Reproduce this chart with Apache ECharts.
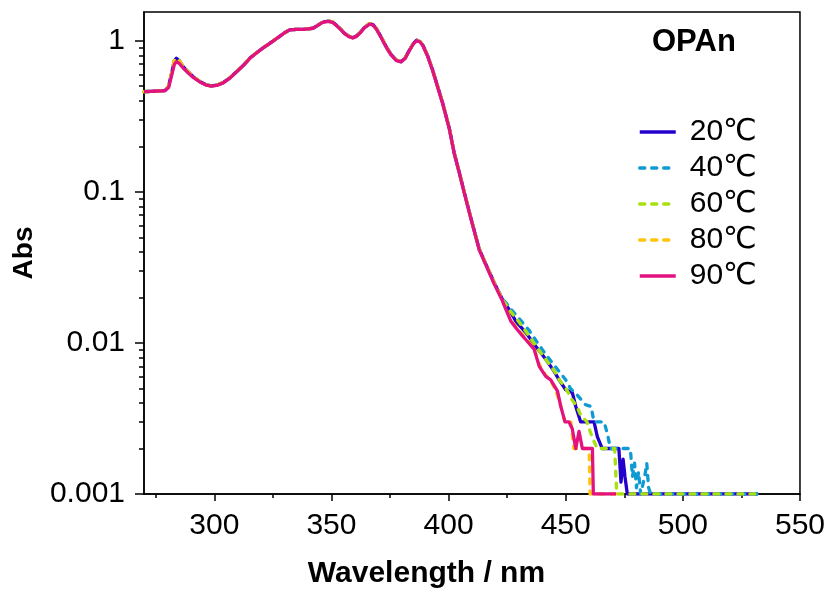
<!DOCTYPE html>
<html><head><meta charset="utf-8">
<script src="https://cdn.jsdelivr.net/npm/echarts@6/dist/echarts.min.js"></script>
<style>html,body{margin:0;padding:0;background:#fff}#chart{width:828px;height:594px}</style>
</head><body><div id="chart"></div>
<script>
// ---- data ----
const seriesNames = ['20℃', '40℃', '60℃', '80℃', '90℃'];
const seriesColors = ['#2400CC', '#0E9BD4', '#A8E010', '#FFC508', '#E2127F'];

// shared part of the spectrum (all temperatures overlap)
const wlHead = [270, 273, 276, 279, 280.5, 281.8, 283, 283.8, 285, 286.7, 289, 291, 294, 296.7, 298.8, 301, 303.8, 306.5, 309.5, 312.5, 315.1, 318, 321, 323.7, 326, 327.9, 330, 332.2, 335, 337.8, 340, 342.1, 344, 345.7, 347.3, 348.8, 350.5, 352, 354, 355.6, 357.5, 359.1, 360.5, 362, 364, 366.3, 367.7, 369.1, 371.2, 373.4, 375.5, 377.6, 379.7, 381.5, 383.3, 385, 386.4, 387.7, 389, 391, 393.2, 395.3, 397.5, 400.3, 402.4, 404.6, 407.1, 409.7, 413.1, 416, 419.5];
const absHead = [0.46, 0.462, 0.465, 0.468, 0.5, 0.61, 0.74, 0.765, 0.74, 0.673, 0.62, 0.578, 0.535, 0.51, 0.502, 0.508, 0.528, 0.565, 0.624, 0.69, 0.765, 0.833, 0.9, 0.96, 1.02, 1.07, 1.13, 1.18, 1.19, 1.19, 1.2, 1.21, 1.26, 1.315, 1.34, 1.35, 1.33, 1.27, 1.19, 1.12, 1.07, 1.047, 1.07, 1.12, 1.22, 1.3, 1.28, 1.21, 1.06, 0.913, 0.81, 0.746, 0.727, 0.77, 0.868, 0.96, 1.01, 0.99, 0.937, 0.8, 0.64, 0.5, 0.386, 0.264, 0.181, 0.134, 0.094, 0.0655, 0.0417, 0.033, 0.025];
const absHead90 = [0.46, 0.462, 0.465, 0.468, 0.49, 0.59, 0.70, 0.726, 0.71, 0.66, 0.61, 0.572, 0.532, 0.508, 0.5, 0.506, 0.526, 0.563, 0.622, 0.688, 0.763, 0.83, 0.9, 0.96, 1.02, 1.07, 1.13, 1.18, 1.19, 1.19, 1.2, 1.21, 1.26, 1.31, 1.335, 1.345, 1.325, 1.265, 1.185, 1.115, 1.065, 1.044, 1.065, 1.115, 1.215, 1.29, 1.27, 1.2, 1.05, 0.905, 0.805, 0.742, 0.724, 0.765, 0.862, 0.955, 1.0, 0.985, 0.93, 0.795, 0.635, 0.496, 0.383, 0.262, 0.18, 0.133, 0.093, 0.065, 0.0413, 0.0326, 0.0245];

// tails (where the curves separate)
const wlTail20 = [423, 425.9, 428.7, 433.0, 437.2, 441.5, 445.0, 447.2, 450.0, 452.8, 454.3, 456.4, 462.1, 463.5, 465.6, 472.7, 473.6, 474.5, 475.3, 476.3, 532];
const absTail20 = [0.0194, 0.0166, 0.0139, 0.0117, 0.0095, 0.0078, 0.0065, 0.0057, 0.0049, 0.0047, 0.0038, 0.0030, 0.0030, 0.0024, 0.0020, 0.0020, 0.0012, 0.0017, 0.0013, 0.001, 0.001];
const wlTail40 = [423, 426, 430.1, 434.4, 438, 442, 445.8, 450.0, 452, 455, 458.5, 460.8, 462.1, 466.4, 467.8, 469.1, 477.6, 478.5, 479.4, 480.2, 481.1, 482.0, 483.7, 484.6, 485.4, 486.3, 532];
const absTail40 = [0.0197, 0.0172, 0.0145, 0.0121, 0.0100, 0.0082, 0.0069, 0.0057, 0.0050, 0.0045, 0.0039, 0.0038, 0.0030, 0.0030, 0.0025, 0.0020, 0.0020, 0.0013, 0.0016, 0.0011, 0.0014, 0.001, 0.0013, 0.0016, 0.0011, 0.001, 0.001];
const wlTail60 = [423, 426, 430, 434, 438, 442, 445.5, 447.2, 450.1, 452.7, 454.8, 456.5, 459.1, 460.4, 461.7, 463.5, 470.9, 471.8, 532];
const absTail60 = [0.0194, 0.0165, 0.0138, 0.0113, 0.0092, 0.0076, 0.0064, 0.0057, 0.0050, 0.0042, 0.0038, 0.0033, 0.0030, 0.0026, 0.0023, 0.0020, 0.0020, 0.001, 0.001];
const wlTail80 = [423, 424.5, 426.6, 428.7, 433, 436.5, 438.7, 441.5, 443.6, 446.5, 447.9, 449.7, 452.2, 453.5, 460.0, 460.4, 471.5];
const absTail80 = [0.0194, 0.0168, 0.0141, 0.0128, 0.0107, 0.0092, 0.0072, 0.0061, 0.0057, 0.0045, 0.0038, 0.0030, 0.0030, 0.0020, 0.0020, 0.001, 0.001];
const wlTail90 = [423, 424.5, 426.6, 428.7, 431, 433, 436.5, 438.7, 441.5, 443.6, 446.5, 447.9, 449.7, 451.4, 452.8, 454.3, 455.7, 457.1, 461.4, 461.8, 471.5];
const absTail90 = [0.0190, 0.0166, 0.0139, 0.0126, 0.0114, 0.0105, 0.0091, 0.0070, 0.0060, 0.0057, 0.0048, 0.0038, 0.0030, 0.0030, 0.0027, 0.0020, 0.0026, 0.0020, 0.0020, 0.001, 0.001];

// axes
const xMajorTicks = [300, 350, 400, 450, 500, 550];
const xMinorTicks = [275, 325, 375, 425, 475, 525];
const yMajorTicks = [0.001, 0.01, 0.1, 1];
const yMinorTicks = [0.002, 0.003, 0.004, 0.005, 0.006, 0.007, 0.008, 0.009, 0.02, 0.03, 0.04, 0.05, 0.06, 0.07, 0.08, 0.09, 0.2, 0.3, 0.4, 0.5, 0.6, 0.7, 0.8, 0.9];
const chartTitle = 'OPAn';
const xName = 'Wavelength / nm';
const yName = 'Abs';

// ---- build ----
function pairs(wa, va) { return wa.map((w, i) => [w, va[i]]); }
const heads = [absHead, absHead, absHead, absHead, absHead90];
const tails = [[wlTail20, absTail20], [wlTail40, absTail40], [wlTail60, absTail60], [wlTail80, absTail80], [wlTail90, absTail90]];
const dashes = ['solid', [5, 7], [5, 7], [5, 7], 'solid'];
const FONT = '"Liberation Sans", Arial, "DejaVu Sans", sans-serif';

const series = seriesNames.map((name, i) => ({
  name: name,
  type: 'line',
  xAxisIndex: 0, yAxisIndex: 0,
  showSymbol: false, symbol: 'none',
  data: pairs(wlHead, heads[i]).concat(pairs(tails[i][0], tails[i][1])),
  lineStyle: { color: seriesColors[i], width: 3.3, type: dashes[i], cap: dashes[i] === 'solid' ? 'butt' : 'round', join: 'round' },
  itemStyle: { color: seriesColors[i] },
  z: 2 + i
}));

const axisLineStyle = { color: '#000', width: 1.5 };
const chart = echarts.init(document.getElementById('chart'), null, { renderer: 'canvas' });
chart.setOption({
  animation: false,
  backgroundColor: '#fff',
  title: { text: chartTitle, left: 652, top: 27, padding: 0,
    textStyle: { fontSize: 31, fontWeight: 'bold', fontFamily: FONT, color: '#000' } },
  legend: {
    orient: 'vertical', left: 638, top: 117, padding: 0,
    itemWidth: 36, itemHeight: 14, itemGap: 6,
    itemStyle: { opacity: 0 },
    lineStyle: { width: 3.5 },
    textStyle: { fontSize: 30, lineHeight: 30, fontFamily: FONT, color: '#000', padding: [0, 0, 0, 9] },
    data: seriesNames
  },
  grid: { left: 144, right: 27, top: 12, bottom: 99, show: true, borderColor: '#000', borderWidth: 1.5, containLabel: false },
  xAxis: [{
    type: 'value', min: 270, max: 550, position: 'bottom',
    axisLine: { show: true, onZero: false, lineStyle: axisLineStyle },
    axisTick: { show: true, length: 7, lineStyle: axisLineStyle, customValues: xMajorTicks },
    axisLabel: { customValues: xMajorTicks, fontSize: 30, fontFamily: FONT, color: '#000', margin: 17 },
    splitLine: { show: false },
    name: xName, nameLocation: 'middle', nameGap: 65,
    nameTextStyle: { fontSize: 30, fontWeight: 'bold', fontFamily: FONT, color: '#000', padding: [0, 91, 0, 0] }
  }, {
    type: 'value', min: 270, max: 550, position: 'bottom', offset: 0,
    axisLine: { show: false },
    axisTick: { show: true, length: 4, lineStyle: axisLineStyle, customValues: xMinorTicks },
    axisLabel: { show: false },
    splitLine: { show: false }
  }],
  yAxis: [{
    type: 'log', logBase: 10, min: 0.001, max: 1.55, position: 'left',
    axisLine: { show: true, lineStyle: axisLineStyle },
    axisTick: { show: true, length: 9, lineStyle: axisLineStyle, customValues: yMajorTicks },
    axisLabel: { customValues: yMajorTicks, fontSize: 30, fontFamily: FONT, color: '#000', margin: 19,
      formatter: v => String(+Number(v).toPrecision(3)) },
    splitLine: { show: false },
    name: yName, nameLocation: 'middle', nameGap: 106,
    nameTextStyle: { fontSize: 28, fontWeight: 'bold', fontFamily: FONT, color: '#000' }
  }, {
    type: 'log', logBase: 10, min: 0.001, max: 1.55, position: 'left', offset: 0,
    axisLine: { show: false },
    axisTick: { show: true, length: 5, lineStyle: axisLineStyle, customValues: yMinorTicks },
    axisLabel: { show: false },
    splitLine: { show: false }
  }],
  series: series
});
</script></body></html>
